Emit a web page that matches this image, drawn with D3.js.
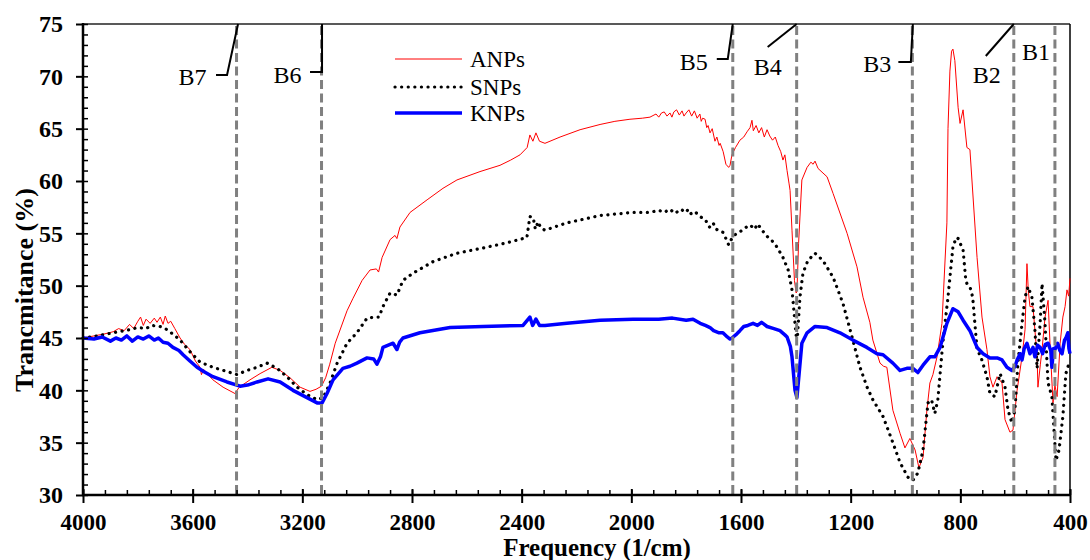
<!DOCTYPE html>
<html><head><meta charset="utf-8">
<script src="https://cdn.jsdelivr.net/npm/d3@7"></script>
<style>html,body{margin:0;padding:0;background:#fff;}svg{display:block;}</style>
</head><body>
<svg id="chart" width="1090" height="560"></svg>
<script>
// ---------------- DATA ----------------
const xTicks = [4000, 3600, 3200, 2800, 2400, 2000, 1600, 1200, 800, 400];
const yTicks = [30, 35, 40, 45, 50, 55, 60, 65, 70, 75];
const seriesNames = ["ANPs", "SNPs", "KNPs"];
const bandNames = ["B7", "B6", "B5", "B4", "B3", "B2", "B1"];
const bandFreqs = [3440, 3130, 1630, 1397, 975, 605, 455];

const anps = [[4000,45.0],[3960,45.2],[3920,45.4],[3890,45.6],[3870,45.9],[3850,45.7],[3830,46.3],[3815,45.9],[3800,46.6],[3790,47.0],[3780,46.2],[3770,46.8],[3755,46.4],[3740,46.9],[3730,46.5],[3718,47.0],[3708,46.3],[3700,47.1],[3690,46.4],[3680,46.6],[3665,45.9],[3646,45.0],[3630,44.4],[3610,43.9],[3590,42.8],[3573,42.2],[3568,41.5],[3560,42.0],[3540,41.4],[3526,41.0],[3489,40.3],[3446,39.7],[3430,40.3],[3391,41.0],[3354,41.6],[3311,42.2],[3281,41.9],[3245,41.2],[3208,40.3],[3172,39.9],[3150,40.1],[3130,40.4],[3115,41.2],[3100,42.5],[3080,44.5],[3037,47.6],[3015,48.8],[2982,50.5],[2953,51.5],[2930,51.6],[2922,51.3],[2909,52.7],[2880,54.4],[2862,54.8],[2855,54.5],[2844,55.6],[2807,57.0],[2745,58.2],[2687,59.3],[2636,60.1],[2552,60.9],[2479,61.5],[2440,62.0],[2406,62.5],[2380,63.2],[2370,64.4],[2359,63.8],[2348,64.6],[2335,63.8],[2315,63.6],[2260,64.2],[2187,64.9],[2114,65.4],[2060,65.7],[2005,65.9],[1960,66.0],[1932,66.1],[1910,66.4],[1900,66.1],[1890,66.5],[1880,66.6],[1870,66.2],[1859,66.5],[1852,66.1],[1845,66.6],[1835,66.8],[1825,66.3],[1815,66.7],[1808,66.2],[1800,66.5],[1790,66.8],[1780,66.2],[1770,66.7],[1760,66.0],[1750,66.4],[1745,65.7],[1740,66.0],[1731,65.9],[1725,65.1],[1720,65.3],[1713,64.6],[1705,65.0],[1695,63.8],[1688,64.2],[1680,63.4],[1676,63.6],[1665,62.8],[1655,61.6],[1645,61.3],[1640,61.5],[1633,62.5],[1620,63.2],[1604,63.9],[1590,64.2],[1578,64.7],[1567,65.1],[1560,65.8],[1555,64.8],[1545,65.3],[1535,64.6],[1525,65.1],[1515,64.2],[1505,64.9],[1495,64.3],[1485,63.9],[1475,64.2],[1465,63.4],[1455,62.8],[1447,62.0],[1440,62.5],[1432,61.0],[1425,59.8],[1421,59.1],[1414,55.3],[1405,50.5],[1399,49.3],[1396,49.4],[1390,54.0],[1378,60.1],[1359,61.3],[1345,61.8],[1337,61.6],[1330,61.9],[1319,61.2],[1286,60.4],[1264,58.8],[1213,55.0],[1177,51.8],[1155,48.9],[1130,46.5],[1119,44.8],[1093,42.6],[1080,42.3],[1068,42.2],[1046,38.1],[1020,35.9],[1002,34.5],[984,35.4],[965,34.3],[951,32.6],[936,33.6],[922,38.1],[911,40.7],[900,41.5],[885,43.2],[867,46.4],[849,56.0],[845,65.0],[838,70.5],[832,72.4],[827,72.6],[820,71.5],[808,67.0],[801,65.5],[790,66.8],[776,63.2],[765,63.0],[739,52.7],[721,47.0],[703,43.9],[692,41.3],[681,40.3],[666,41.3],[648,40.7],[637,37.2],[619,36.0],[608,36.2],[593,40.0],[575,43.2],[564,45.8],[557,52.1],[552,49.5],[546,48.0],[535,48.0],[520,43.2],[517,40.3],[508,42.5],[502,43.9],[491,47.0],[480,48.6],[473,44.5],[462,38.8],[455,40.5],[447,39.4],[436,44.5],[426,47.0],[418,48.0],[411,49.6],[405,49.0],[400,50.7]];

const snps = [[4000,45.0],[3950,45.2],[3891,45.5],[3850,45.7],[3829,45.8],[3800,46.0],[3770,45.9],[3750,46.2],[3719,46.1],[3700,45.9],[3683,45.6],[3646,44.8],[3610,43.7],[3573,42.7],[3526,42.2],[3475,41.8],[3438,41.5],[3402,41.9],[3365,42.2],[3329,42.6],[3292,42.1],[3256,41.3],[3219,40.3],[3183,39.6],[3146,39.1],[3124,39.3],[3099,40.7],[3073,42.6],[3037,44.5],[3001,45.5],[2964,46.9],[2935,47.0],[2920,47.0],[2906,48.0],[2880,49.3],[2855,49.1],[2833,50.5],[2796,51.2],[2723,52.3],[2636,53.1],[2541,53.6],[2453,54.1],[2381,54.6],[2370,56.6],[2358,56.5],[2350,55.4],[2340,56.1],[2330,55.5],[2315,55.3],[2235,56.0],[2114,56.7],[1994,57.0],[1932,57.0],[1900,57.2],[1880,57.0],[1860,57.3],[1840,56.9],[1820,57.3],[1800,57.0],[1793,57.3],[1780,56.8],[1765,57.0],[1749,56.6],[1730,56.3],[1715,55.6],[1702,56.0],[1690,55.4],[1680,55.2],[1666,55.1],[1655,54.5],[1645,53.9],[1640,54.2],[1629,54.7],[1610,55.1],[1593,55.3],[1580,55.6],[1567,55.8],[1550,55.4],[1540,55.9],[1531,55.6],[1520,55.2],[1505,54.7],[1490,54.4],[1469,53.7],[1447,52.7],[1428,51.5],[1414,49.6],[1403,46.4],[1398,45.0],[1394,45.2],[1385,48.9],[1374,51.2],[1356,52.4],[1330,53.1],[1301,52.4],[1264,50.8],[1228,48.3],[1195,45.1],[1166,42.2],[1140,40.3],[1119,39.1],[1082,37.5],[1046,35.0],[1020,33.1],[991,31.7],[973,31.4],[955,32.1],[936,34.3],[918,38.8],[905,39.1],[893,37.8],[882,39.1],[864,44.5],[845,48.9],[827,53.7],[815,54.6],[808,54.5],[790,53.4],[780,50.5],[776,50.2],[765,49.9],[755,48.9],[739,43.9],[725,43.2],[703,41.3],[692,39.7],[674,39.4],[655,41.6],[637,40.3],[626,38.1],[612,36.9],[601,38.1],[590,42.6],[575,46.4],[564,48.9],[553,49.9],[539,48.9],[528,45.8],[520,42.1],[509,46.4],[502,50.2],[491,46.4],[480,40.7],[466,39.4],[460,36.9],[451,33.3],[440,34.3],[426,37.5],[415,41.6],[400,42.9]];

const knps = [[4000,45.0],[3960,44.9],[3930,45.1],[3900,44.7],[3880,45.0],[3860,44.8],[3840,45.2],[3820,44.7],[3800,45.1],[3780,44.9],[3760,45.2],[3740,44.8],[3725,45.0],[3708,44.6],[3690,44.5],[3672,44.1],[3650,43.8],[3635,43.4],[3610,42.8],[3584,42.2],[3560,41.8],[3526,41.3],[3475,40.8],[3427,40.4],[3400,40.5],[3365,40.8],[3325,41.1],[3281,40.8],[3234,40.0],[3183,39.3],[3146,38.8],[3128,38.8],[3110,39.7],[3088,41.0],[3052,42.1],[3026,42.3],[3001,42.6],[2964,43.1],[2940,43.0],[2928,42.5],[2915,43.2],[2906,44.1],[2869,44.5],[2855,43.9],[2845,44.6],[2833,45.0],[2771,45.5],[2661,46.0],[2541,46.1],[2395,46.2],[2370,47.0],[2360,46.2],[2348,46.8],[2335,46.2],[2315,46.2],[2235,46.4],[2114,46.7],[1994,46.8],[1900,46.8],[1850,46.9],[1800,46.7],[1775,46.8],[1749,46.4],[1730,46.2],[1713,46.0],[1700,45.7],[1680,45.5],[1666,45.5],[1650,45.1],[1640,44.9],[1633,45.0],[1615,45.4],[1604,45.7],[1590,46.1],[1575,46.2],[1556,46.4],[1540,46.2],[1525,46.5],[1505,46.1],[1480,45.9],[1458,45.7],[1440,45.3],[1432,45.1],[1420,44.2],[1414,43.2],[1403,40.0],[1396,39.3],[1388,41.6],[1378,44.5],[1359,45.5],[1330,46.1],[1286,46.0],[1239,45.5],[1192,44.8],[1141,44.1],[1104,43.5],[1082,43.4],[1046,42.6],[1020,41.9],[995,42.1],[973,42.1],[955,41.7],[936,42.4],[911,43.2],[893,43.2],[874,44.1],[849,46.4],[827,47.8],[808,47.5],[790,46.7],[765,45.7],[739,44.1],[717,43.5],[692,43.1],[666,43.1],[648,42.9],[630,42.2],[612,41.9],[600,42.3],[593,42.9],[582,43.5],[575,42.9],[567,44.0],[557,44.5],[546,43.5],[535,44.1],[528,43.2],[518,44.3],[509,44.1],[500,43.5],[490,44.4],[480,44.5],[470,43.8],[466,42.2],[460,44.0],[455,43.9],[445,44.5],[437,43.8],[429,43.5],[420,44.8],[415,45.0],[408,45.5],[404,44.0],[400,43.5]];

// ---------------- LAYOUT ----------------
const FONT = "'Liberation Serif','Times New Roman',Times,serif";
const M = {left: 83, right: 1070, top: 24, bottom: 495};
const svg = d3.select("#chart");
svg.append("rect").attr("width",1090).attr("height",560).attr("fill","#fff");

const x = d3.scaleLinear().domain([4000, 400]).range([M.left, M.right]);
const y = d3.scaleLinear().domain([30, 75]).range([M.bottom, M.top]);

// frame
svg.append("line").attr("x1",x(4000)).attr("x2",x(400)).attr("y1",y(75)).attr("y2",y(75)).attr("stroke","#222").attr("stroke-width",1.5);
svg.append("line").attr("x1",x(400)).attr("x2",x(400)).attr("y1",y(75)).attr("y2",y(30)).attr("stroke","#000").attr("stroke-width",1.5);

// curves
const line = d3.line().x(d => x(d[0])).y(d => y(d[1]));
svg.append("path").datum(anps).attr("d",line).attr("fill","none").attr("stroke","#ff0000").attr("stroke-width",1).attr("stroke-linejoin","round");
svg.append("path").datum(snps).attr("d",line).attr("fill","none").attr("stroke","#000").attr("stroke-width",3.2).attr("stroke-linecap","round").attr("stroke-dasharray","0.1 6.5");
svg.append("path").datum(knps).attr("d",line).attr("fill","none").attr("stroke","#0000ff").attr("stroke-width",3.5).attr("stroke-linejoin","round");

// band dashed lines
svg.append("g").selectAll("line").data(bandFreqs).join("line")
  .attr("x1",d=>x(d)).attr("x2",d=>x(d)).attr("y1",y(75)+2).attr("y2",y(30))
  .attr("stroke","#808080").attr("stroke-width",3).attr("stroke-dasharray","9 4.5");

// band labels with leaders (offsets relative to band line)
const bandLayout = [
  {dx:-58, by:85, pts:[[-20.5,75],[-9.5,75],[1.5,24]]},
  {dx:-48, by:83, pts:[[-11.5,72],[0.5,72],[0.5,24]]},
  {dx:-53, by:70, pts:[[-16,59],[-5,59],[0,24]]},
  {dx:-43, by:75, pts:[[-29,47],[0,24]]},
  {dx:-49, by:72, pts:[[-14,62],[-1.5,62],[0.5,24]]},
  {dx:-41, by:83, pts:[[-28,56],[0,24]]},
  {dx:-33, by:60, pts:null}
];
const ann = svg.append("g");
bandFreqs.forEach((f,i) => {
  const bx = x(f), L = bandLayout[i];
  ann.append("text").attr("x",bx+L.dx).attr("y",L.by).text(bandNames[i])
    .attr("font-family",FONT).attr("font-size",24).attr("fill","#000");
  if (L.pts) {
    ann.append("polyline").attr("points",L.pts.map(p=>[bx+p[0],p[1]].join(",")).join(" "))
      .attr("fill","none").attr("stroke","#000").attr("stroke-width",2);
  }
});

// axes
const yAxis = svg.append("g").attr("transform",`translate(${M.left},0)`)
  .call(d3.axisLeft(y).tickValues(yTicks).tickSize(7).tickPadding(13));
yAxis.select(".domain").remove();
yAxis.selectAll("line").attr("stroke","#000").attr("stroke-width",2);
yAxis.selectAll("text").attr("font-family",FONT).attr("font-size",24).attr("font-weight","bold").attr("fill","#000");

const yIn = svg.append("g").attr("transform",`translate(${M.left},0)`)
  .call(d3.axisRight(y).tickValues(d3.range(30,75.1,1)).tickSize(5).tickFormat(""));
yIn.select(".domain").remove();
yIn.selectAll("line").attr("stroke","#000").attr("stroke-width",1.5);

const xAxis = svg.append("g").attr("transform",`translate(0,${M.bottom})`)
  .call(d3.axisBottom(x).tickValues(xTicks).tickSize(8).tickPadding(11).tickFormat(d3.format("d")));
xAxis.select(".domain").remove();
xAxis.selectAll("line").attr("stroke","#000").attr("stroke-width",2).attr("y1",-6);
xAxis.selectAll("text").attr("font-family",FONT).attr("font-size",23).attr("font-weight","bold").attr("fill","#000");

const xIn = svg.append("g").attr("transform",`translate(0,${M.bottom})`)
  .call(d3.axisTop(x).tickValues(d3.range(4000,399,-80)).tickSize(5).tickFormat(""));
xIn.select(".domain").remove();
xIn.selectAll("line").attr("stroke","#000").attr("stroke-width",1.5);

// axis lines
svg.append("line").attr("x1",M.left).attr("x2",M.left).attr("y1",y(75)-1).attr("y2",y(30)+1).attr("stroke","#000").attr("stroke-width",2.5);
svg.append("line").attr("x1",M.left-1).attr("x2",x(400)).attr("y1",M.bottom).attr("y2",M.bottom).attr("stroke","#000").attr("stroke-width",2.5);

// axis titles
svg.append("text").attr("x",597).attr("y",556).attr("text-anchor","middle")
  .attr("font-family",FONT).attr("font-size",25).attr("font-weight","bold").text("Frequency (1/cm)");
svg.append("text").attr("transform","translate(33,290) rotate(-90)").attr("text-anchor","middle")
  .attr("font-family",FONT).attr("font-size",26).attr("font-weight","bold").text("Trancmitance (%)");

// legend
const legStyles = [
  {stroke:"#ff0000", w:1, dash:null, cap:"butt"},
  {stroke:"#000", w:3.2, dash:"0.1 6.5", cap:"round"},
  {stroke:"#0000ff", w:3.5, dash:null, cap:"butt"}
];
const legYs = [59, 87, 113];
const leg = svg.append("g");
seriesNames.forEach((n,i) => {
  const s = legStyles[i];
  leg.append("line").attr("x1",395).attr("x2",462).attr("y1",legYs[i]).attr("y2",legYs[i])
    .attr("stroke",s.stroke).attr("stroke-width",s.w).attr("stroke-linecap",s.cap)
    .attr("stroke-dasharray",s.dash);
  leg.append("text").attr("x",470).attr("y",legYs[i]+8).text(n)
    .attr("font-family",FONT).attr("font-size",23).attr("fill","#000");
});
</script>
</body></html>
